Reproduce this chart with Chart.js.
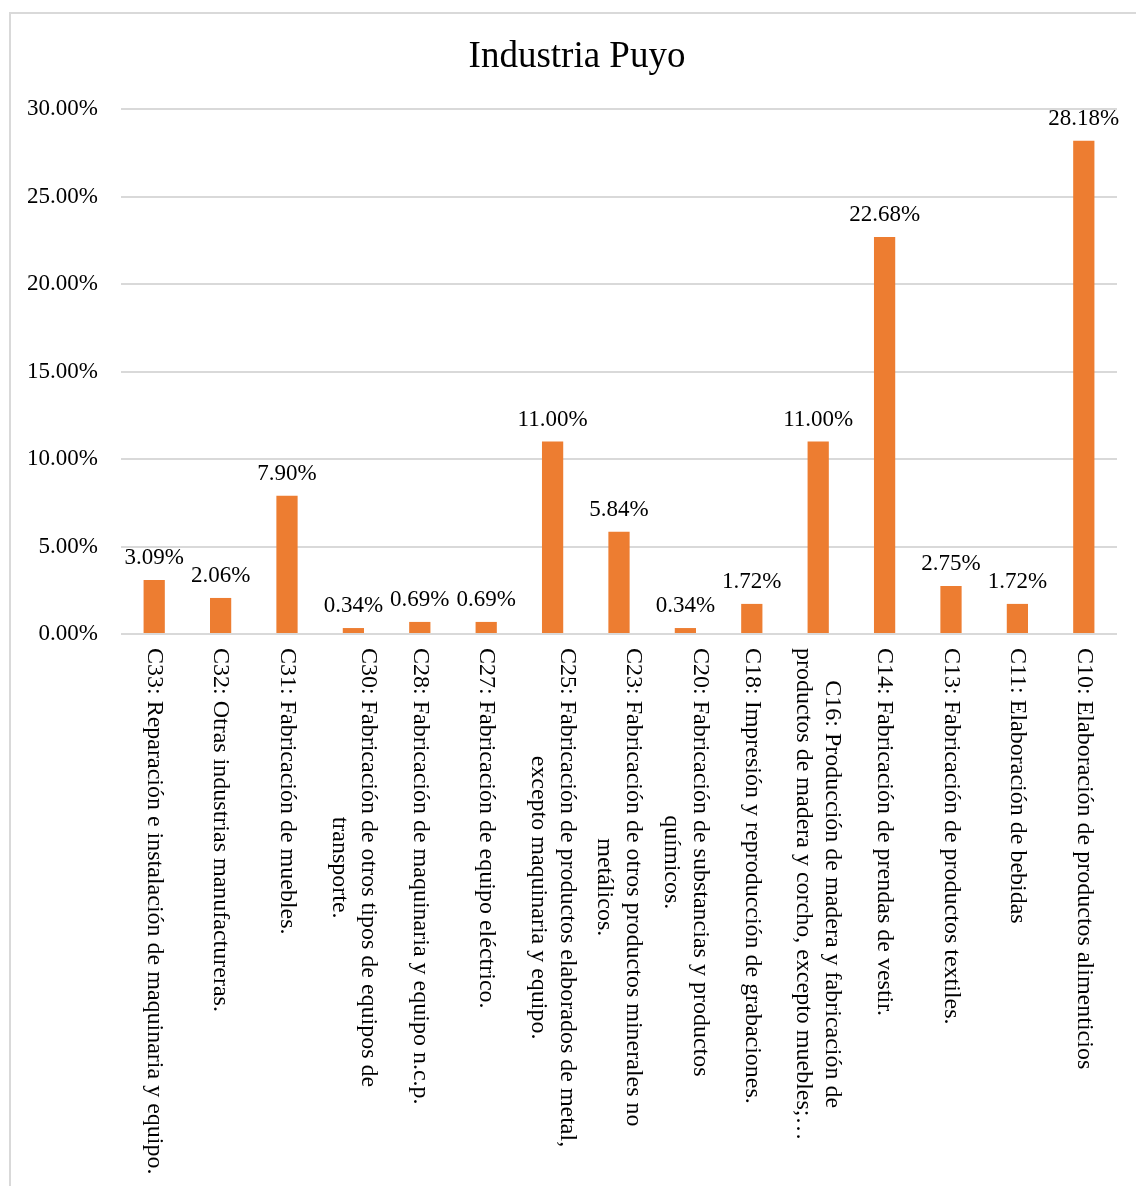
<!DOCTYPE html>
<html>
<head>
<meta charset="utf-8">
<script src="https://cdn.jsdelivr.net/npm/chart.js@4/dist/chart.umd.min.js"></script>
<style>
html,body{margin:0;padding:0;background:#fff;overflow:hidden;}
#wrap{position:relative;width:1136px;height:1186px;}
#frame{position:absolute;left:9px;top:12px;width:1160px;height:1220px;border:2px solid #d9d9d9;box-sizing:border-box;}
canvas{position:absolute;left:0;top:0;}
</style>
</head>
<body>
<div id="wrap">
<div id="frame"></div>
<canvas id="c" width="1136" height="1186"></canvas>
</div>
<script>
const chartTitle = "Industria Puyo";
const categories = [
  ["C33: Reparación e instalación de maquinaria y equipo."],
  ["C32: Otras industrias manufactureras."],
  ["C31: Fabricación de muebles."],
  ["C30: Fabricación de otros tipos de equipos de", "transporte."],
  ["C28: Fabricación de maquinaria y equipo n.c.p."],
  ["C27: Fabricación de equipo eléctrico."],
  ["C25: Fabricación de productos elaborados de metal,", "excepto maquinaria y equipo."],
  ["C23: Fabricación de otros productos minerales no", "metálicos."],
  ["C20: Fabricación de substancias y productos", "químicos."],
  ["C18: Impresión y reproducción de grabaciones."],
  ["C16: Producción de madera y fabricación de", "productos de madera y corcho, excepto muebles;…"],
  ["C14: Fabricación de prendas de vestir."],
  ["C13: Fabricación de productos textiles."],
  ["C11: Elaboración de bebidas"],
  ["C10: Elaboración de productos alimenticios"]
];
const values = [3.09, 2.06, 7.90, 0.34, 0.69, 0.69, 11.00, 5.84, 0.34, 1.72, 11.00, 22.68, 2.75, 1.72, 28.18];
const yTicks = [0, 5, 10, 15, 20, 25, 30];

const FONT = "'Liberation Serif', 'Times New Roman', serif";

const labelsPlugin = {
  id: 'customLabels',
  afterDatasetsDraw(chart) {
    const ctx = chart.ctx;
    const meta = chart.getDatasetMeta(0);
    ctx.save();
    ctx.fillStyle = '#000';
    ctx.font = "23px " + FONT;
    ctx.textAlign = 'center';
    ctx.textBaseline = 'alphabetic';
    meta.data.forEach((bar, i) => {
      ctx.fillText(values[i].toFixed(2) + '%', bar.x, bar.y - 16);
    });
    ctx.restore();
  },
  afterDraw(chart) {
    const ctx = chart.ctx;
    const xs = chart.scales.x;
    const lh = 29;
    ctx.save();
    ctx.fillStyle = '#000';
    // title
    ctx.font = "37px " + FONT;
    ctx.textAlign = 'center';
    ctx.textBaseline = 'alphabetic';
    ctx.fillText(chartTitle, 577, 67);
    // category labels, rotated clockwise
    ctx.font = "24px " + FONT;
    ctx.textBaseline = 'middle';
    categories.forEach((lines, i) => {
      const x = xs.getPixelForValue(i);
      const top = xs.top + 14;
      const widths = lines.map(l => ctx.measureText(l).width);
      const maxW = Math.max(...widths);
      ctx.save();
      ctx.translate(x, top);
      ctx.rotate(Math.PI / 2);
      const n = lines.length;
      lines.forEach((l, k) => {
        const ly = (k - (n - 1) / 2) * lh;
        ctx.textAlign = 'center';
        ctx.fillText(l, maxW / 2, ly);
      });
      ctx.restore();
    });
    ctx.restore();
  }
};

new Chart(document.getElementById('c'), {
  type: 'bar',
  data: {
    labels: categories.map(c => c.join(' ')),
    datasets: [{
      data: values,
      backgroundColor: '#ED7D31',
      borderWidth: 0,
      barPercentage: 0.32,
      categoryPercentage: 1.0
    }]
  },
  options: {
    responsive: false,
    animation: false,
    devicePixelRatio: 1,
    layout: { padding: { top: 109, right: 19, left: 0, bottom: 0 } },
    plugins: {
      legend: { display: false },
      tooltip: { enabled: false },
      title: { display: false }
    },
    scales: {
      x: {
        grid: { display: false, drawTicks: false },
        border: { display: false },
        ticks: { display: false },
        afterFit(scale) { scale.height = 552; }
      },
      y: {
        min: 0,
        max: 30,
        afterBuildTicks(scale) { scale.ticks = yTicks.map(v => ({ value: v })); },
        grid: { color: '#d9d9d9', lineWidth: 2, drawTicks: false },
        border: { display: false },
        ticks: {
          color: '#000',
          font: { family: FONT, size: 23 },
          padding: 23,
          callback: v => v.toFixed(2) + '%'
        },
        afterFit(scale) { scale.width = 121; }
      }
    }
  },
  plugins: [labelsPlugin]
});
</script>
</body>
</html>
